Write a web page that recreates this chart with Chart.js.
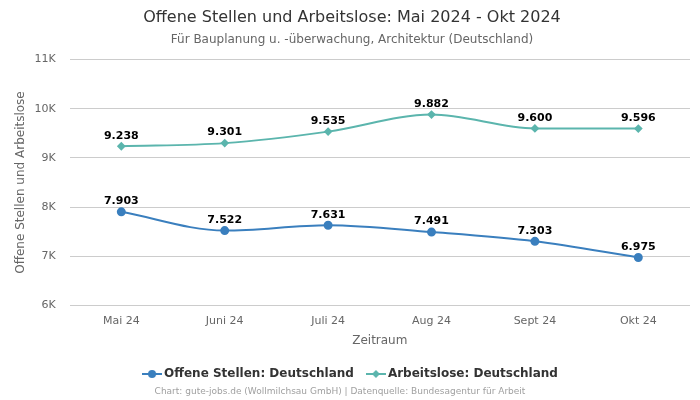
<!DOCTYPE html>
<html>
<head>
<meta charset="utf-8">
<script src="https://cdn.jsdelivr.net/npm/chart.js@4"></script>
<style>
html,body{margin:0;padding:0;background:#fff;}
#wrap{width:700px;height:400px;position:relative;}
</style>
</head>
<body>
<div id="wrap"><canvas id="c" width="700" height="400"></canvas></div>
<script>
const categories = ['Mai 24','Juni 24','Juli 24','Aug 24','Sept 24','Okt 24'];
const offeneStellen = [7903, 7522, 7631, 7491, 7303, 6975];
const arbeitslose = [9238, 9301, 9535, 9882, 9600, 9596];
const yTicks = [6000, 7000, 8000, 9000, 10000, 11000];

const BLUE = '#3a7fbe';
const TEAL = '#5bb5ad';
const FONT = "'DejaVu Sans', sans-serif";

function fmt(v){ return v.toLocaleString('de-DE'); }

function legendIcon(color, style){
  const c = document.createElement('canvas');
  c.width = 20; c.height = 12;
  const x = c.getContext('2d');
  x.strokeStyle = color; x.lineWidth = 2;
  x.beginPath(); x.moveTo(0,6); x.lineTo(20,6); x.stroke();
  x.fillStyle = color;
  x.beginPath();
  if(style==='circle'){ x.arc(10,6,4,0,Math.PI*2); }
  else { x.moveTo(10,2); x.lineTo(14,6); x.lineTo(10,10); x.lineTo(6,6); x.closePath(); }
  x.fill();
  return c;
}

const labelPlugin = {
  id:'pointLabels',
  afterDatasetsDraw(chart){
    const ctx = chart.ctx;
    ctx.save();
    ctx.font = "bold 11px " + FONT;
    ctx.fillStyle = '#000';
    ctx.textAlign = 'center';
    ctx.textBaseline = 'bottom';
    chart.data.datasets.forEach((ds,i)=>{
      const meta = chart.getDatasetMeta(i);
      meta.data.forEach((pt,j)=>{
        ctx.fillText(fmt(ds.data[j]), pt.x, pt.y - 5);
      });
    });
    ctx.restore();
  },
  afterDraw(chart){
    const ctx = chart.ctx;
    ctx.save();
    ctx.font = "9px " + FONT;
    ctx.fillStyle = '#a0a0a0';
    ctx.textAlign = 'center';
    ctx.textBaseline = 'middle';
    ctx.fillText('Chart: gute-jobs.de (Wollmilchsau GmbH) | Datenquelle: Bundesagentur für Arbeit', 340, 392);
    ctx.restore();
  }
};

new Chart(document.getElementById('c'), {
  type:'line',
  data:{
    labels: categories,
    datasets:[
      {label:'Offene Stellen: Deutschland', data: offeneStellen, borderColor: BLUE, backgroundColor: BLUE,
       pointStyle:'circle', pointRadius:3.5, pointHoverRadius:3.5, borderWidth:2, cubicInterpolationMode:'monotone'},
      {label:'Arbeitslose: Deutschland', data: arbeitslose, borderColor: TEAL, backgroundColor: TEAL,
       pointStyle:'rectRot', pointRadius:3, pointHoverRadius:3, borderWidth:2, cubicInterpolationMode:'monotone'}
    ]
  },
  options:{
    responsive:false,
    animation:false,
    layout:{padding:{left:14,right:10,top:0,bottom:10}},
    plugins:{
      title:{display:true, text:'Offene Stellen und Arbeitslose: Mai 2024 - Okt 2024', color:'#333',
        font:{family:FONT, size:16, weight:'normal'}, padding:{top:8,bottom:5}},
      subtitle:{display:true, text:'Für Bauplanung u. -überwachung, Architektur (Deutschland)', color:'#666',
        font:{family:FONT, size:12, weight:'normal'}, padding:{bottom:13}},
      legend:{position:'bottom',
        labels:{color:'#333', font:{family:FONT, size:12, weight:'bold'}, usePointStyle:true, boxWidth:20, boxHeight:12, padding:16,
          generateLabels(chart){
            return chart.data.datasets.map((ds,i)=>({
              text: ds.label, fillStyle: ds.borderColor, strokeStyle: ds.borderColor, lineWidth:0,
              pointStyle: legendIcon(ds.borderColor, i===0?'circle':'diamond'), datasetIndex:i, hidden:false, fontColor:'#333'
            }));
          }}},
      tooltip:{enabled:false}
    },
    scales:{
      x:{offset:true, grid:{display:false}, border:{display:false},
        ticks:{color:'#666', font:{family:FONT, size:11}, padding:1},
        title:{display:true, text:'Zeitraum', color:'#666', font:{family:FONT, size:12}, padding:{top:5, bottom:4}}},
      y:{min:6000, max:11000, grid:{color:'#ccc', drawTicks:false}, border:{display:false},
        afterBuildTicks(axis){ axis.ticks = yTicks.map(v=>({value:v})); },
        afterFit(axis){ axis.width -= 8; },
        ticks:{color:'#666', font:{family:FONT, size:11}, padding:14, callback:(v)=> (v/1000)+'K'},
        title:{display:true, text:'Offene Stellen und Arbeitslose', color:'#666', font:{family:FONT, size:12}, padding:{top:0,bottom:0}}}
    }
  },
  plugins:[labelPlugin]
});
</script>
</body>
</html>
